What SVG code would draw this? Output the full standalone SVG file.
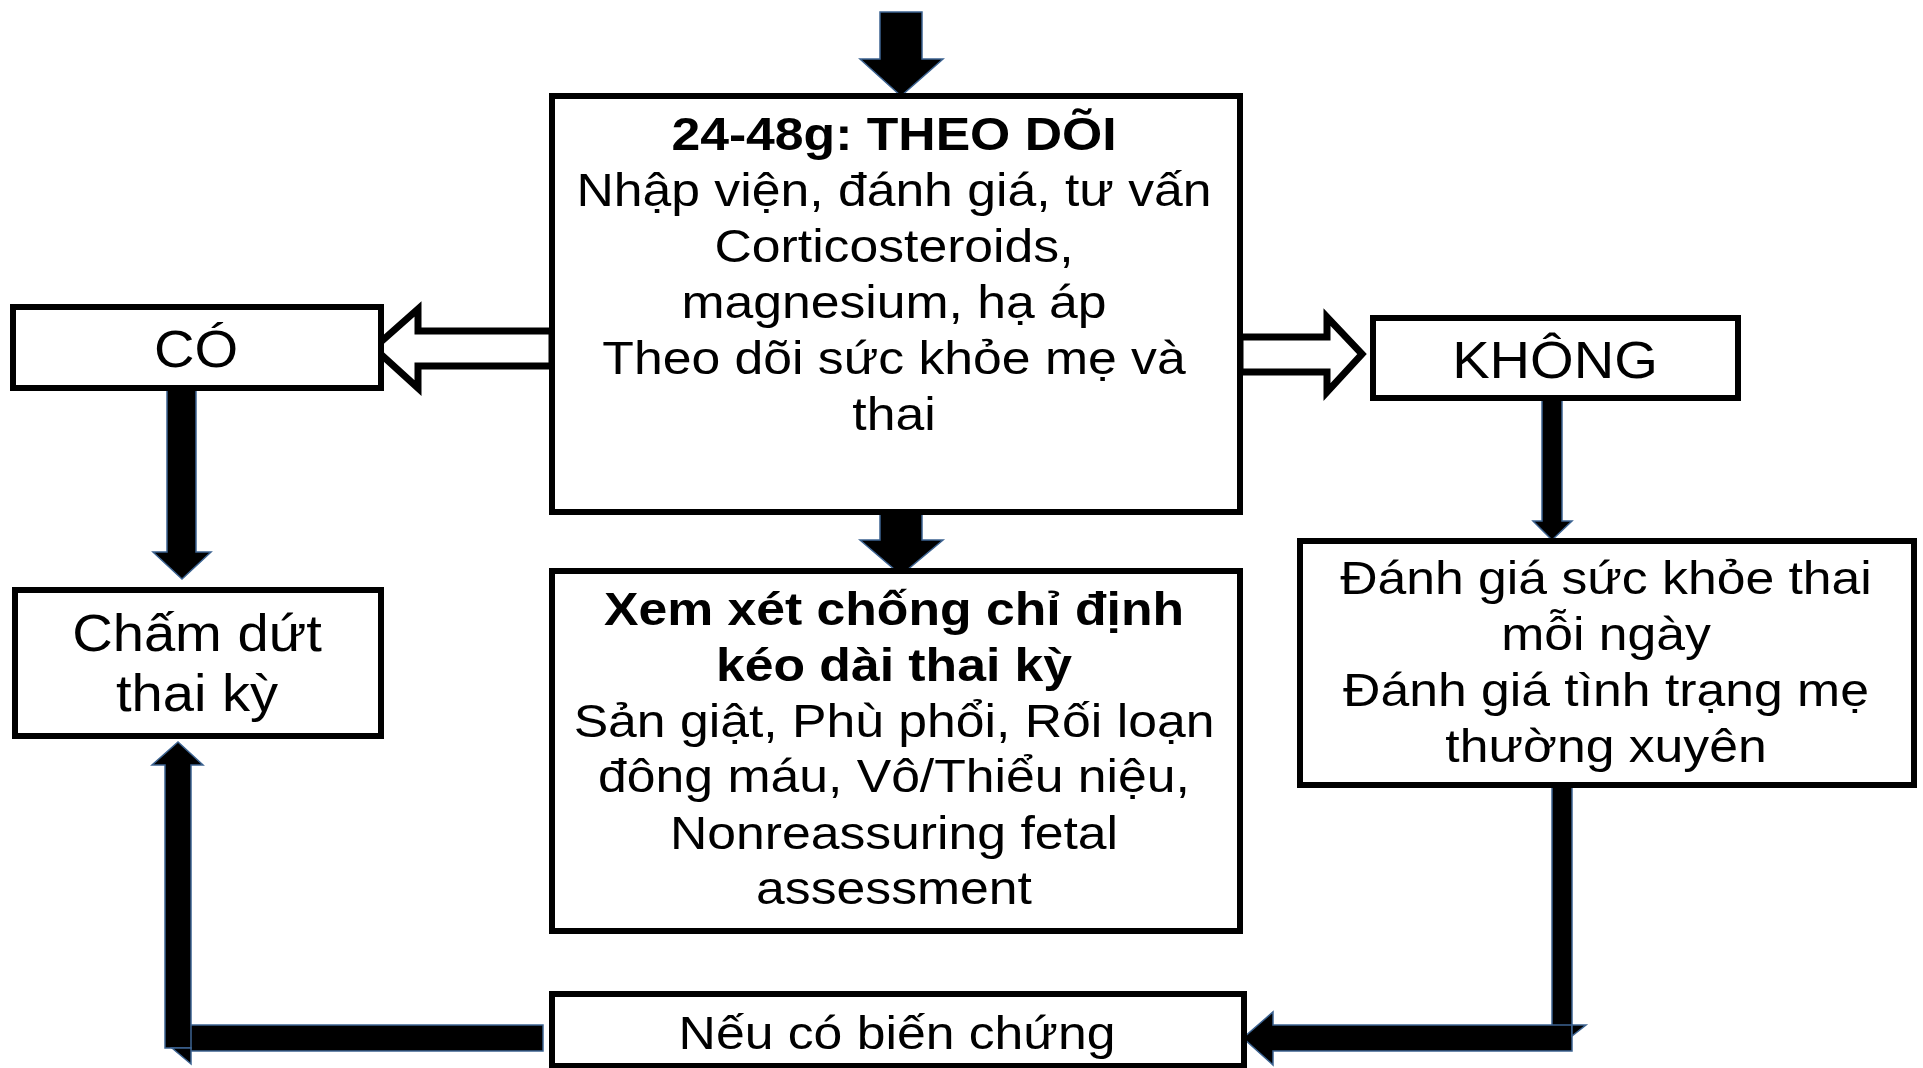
<svg xmlns="http://www.w3.org/2000/svg" width="1923" height="1068" viewBox="0 0 1923 1068">
<style>
.box{fill:#fff;stroke:#000;stroke-width:6}
.blk{fill:#000;stroke:#3c6391;stroke-width:1.5;stroke-linejoin:miter}
.hol{fill:#fff;stroke:#000;stroke-width:7;stroke-linejoin:miter}
text{font-family:"Liberation Sans",Arial,sans-serif;font-size:47px;text-anchor:middle;fill:#000}
.b{font-weight:bold}
.L{font-size:51px}
</style>
<rect width="1923" height="1068" fill="#fff"/>
<g id="connectors">
<polygon class="blk" points="880,12 922,12 922,59 943,59 901,96 860,59 880,59"/>
<polygon class="blk" points="880,497 922,497 922,540 943,540 901,575 860,540 880,540"/>
<polygon class="hol" points="552,331 418,331 418,309 374,348 418,388 418,366 552,366"/>
<polygon class="hol" points="1240,337 1327,337 1327,317 1362,354 1327,392 1327,372 1240,372"/>
<polygon class="blk" points="167,390 196,390 196,552 211,552 182,579 153,552 167,552"/>
<polygon class="blk" points="1542,400 1562,400 1562,521 1572,521 1552,540 1533,521 1542,521"/>
<rect class="blk" x="1552" y="786" width="20" height="240"/>
<polygon class="blk" points="1572,1025 1572,1051 1273,1051 1273,1065 1243,1038 1273,1012 1273,1025"/>
<polygon class="blk" points="1572,1025 1586,1025 1572,1036"/>
<rect class="blk" x="190" y="1025" width="353" height="26"/>
<polygon class="blk" points="165,1048 191,1048 191,765 203,765 178,742 152,765 165,765"/>
<polygon class="blk" points="172,1048 191,1048 191,1064"/>
</g>
<g id="main">
<rect class="box" x="552" y="96" width="688" height="416"/>
<text class="b" transform="translate(894 150) scale(1.1 1)">24-48g: THEO DÕI</text>
<text transform="translate(894 206) scale(1.1 1)">Nhập viện, đánh giá, tư vấn</text>
<text transform="translate(894 262) scale(1.1 1)">Corticosteroids,</text>
<text transform="translate(894 318) scale(1.1 1)">magnesium, hạ áp</text>
<text transform="translate(894 374) scale(1.1 1)">Theo dõi sức khỏe mẹ và</text>
<text transform="translate(894 430) scale(1.1 1)">thai</text>
</g>
<g id="co">
<rect class="box" x="13" y="307" width="368" height="81"/>
<text class="L" transform="translate(196 367) scale(1.1 1)">CÓ</text>
</g>
<g id="khong">
<rect class="box" x="1373" y="318" width="365" height="80"/>
<text class="L" transform="translate(1555 378) scale(1.1 1)">KHÔNG</text>
</g>
<g id="cham-dut">
<rect class="box" x="15" y="590" width="366" height="146"/>
<text class="L" transform="translate(197 651) scale(1.1 1)">Chấm dứt</text>
<text class="L" transform="translate(197 711) scale(1.1 1)">thai kỳ</text>
</g>
<g id="chong-chi-dinh">
<rect class="box" x="552" y="571" width="688" height="360"/>
<text class="b" transform="translate(894 625) scale(1.1 1)">Xem xét chống chỉ định</text>
<text class="b" transform="translate(894 681) scale(1.1 1)">kéo dài thai kỳ</text>
<text transform="translate(894 737) scale(1.1 1)">Sản giật, Phù phổi, Rối loạn</text>
<text transform="translate(894 792) scale(1.1 1)">đông máu, Vô/Thiểu niệu,</text>
<text transform="translate(894 849) scale(1.1 1)">Nonreassuring fetal</text>
<text transform="translate(894 904) scale(1.1 1)">assessment</text>
</g>
<g id="danh-gia">
<rect class="box" x="1300" y="541" width="614" height="244"/>
<text transform="translate(1606 594) scale(1.1 1)">Đánh giá sức khỏe thai</text>
<text transform="translate(1606 650) scale(1.1 1)">mỗi ngày</text>
<text transform="translate(1606 706) scale(1.1 1)">Đánh giá tình trạng mẹ</text>
<text transform="translate(1606 762) scale(1.1 1)">thường xuyên</text>
</g>
<g id="bien-chung">
<rect class="box" x="552" y="994" width="692" height="72"/>
<text transform="translate(897 1049) scale(1.1 1)">Nếu có biến chứng</text>
</g>
</svg>
